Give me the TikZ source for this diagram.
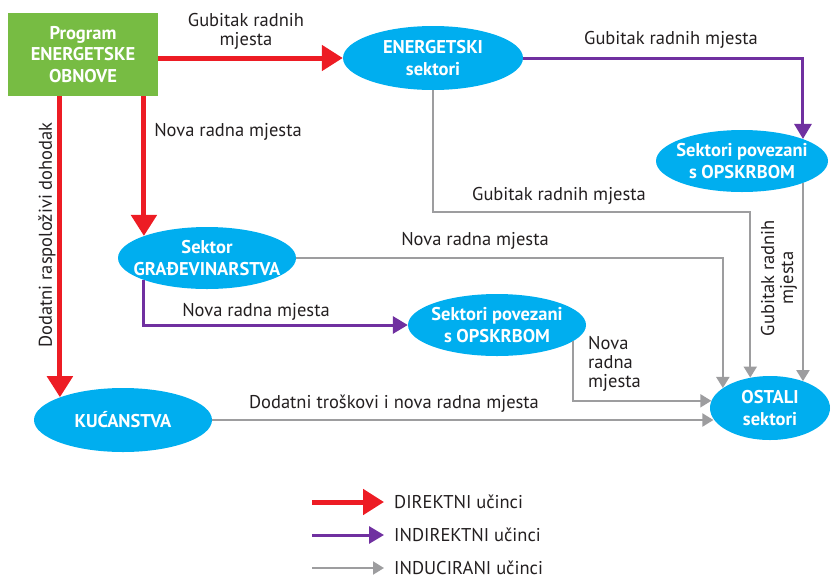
\documentclass[tikz,border=0pt]{standalone}
\usepackage{fontspec}
\setmainfont{PT Sans}
\usetikzlibrary{arrows.meta,calc,shapes.geometric}
\definecolor{cred}{RGB}{237,28,36}
\definecolor{cpur}{RGB}{112,48,160}
\definecolor{cgray}{RGB}{157,157,159}
\definecolor{cblue}{RGB}{0,174,239}
\definecolor{cgreen}{RGB}{119,188,67}
\definecolor{ctext}{RGB}{35,31,32}
\begin{document}
\begin{tikzpicture}[x=1pt,y=-1pt,
  lbl/.style={font=\fontsize{18.5}{19}\selectfont, text=ctext, inner sep=0pt, align=center},
  wtxt/.style={font=\bfseries\fontsize{18.5}{21.5}\selectfont, text=white, align=center, inner sep=0pt},
  ell/.style={ellipse, fill=cblue, inner sep=0pt, draw=none},
  direct/.style={draw=cred, line width=5pt, -{Triangle[length=21pt,width=25pt]}},
  indirect/.style={draw=cpur, line width=3pt, -{Triangle[length=15pt,width=17pt]}},
  induced/.style={draw=cgray, line width=2pt, -{Triangle[length=11pt,width=13pt]}}
]
\useasboundingbox (0,0) rectangle (832,579);

% nodes
\node[fill=cgreen, minimum width=150pt, minimum height=83pt, inner sep=0pt, wtxt] (pg) at (83,54.5) {Program\\ENERGETSKE\\OBNOVE};
\node[ell, minimum width=180pt, minimum height=64pt, label={[wtxt]center:{ENERGETSKI\\sektori}}] (es) at (433,58) {};
\node[ell, minimum width=172pt, minimum height=62pt, label={[wtxt]center:{Sektori povezani\\s OPSKRBOM}}] (sp1) at (742,161) {};
\node[ell, minimum width=120pt, minimum height=64pt, label={[wtxt]center:{OSTALI\\sektori}}] (os) at (770,408) {};
\node[ell, minimum width=178pt, minimum height=62pt, label={[wtxt]center:{Sektor\\GRAĐEVINARSTVA}}] (gr) at (207,258) {};
\node[ell, minimum width=178pt, minimum height=62pt, label={[wtxt]center:{Sektori povezani\\s OPSKRBOM}}] (sp2) at (497,325) {};
\node[ell, minimum width=178pt, minimum height=64pt, label={[wtxt]center:{KUĆANSTVA}}] (ku) at (123,420) {};

% labels
\node[lbl] (l1) at (246,31) {Gubitak radnih\\mjesta};
\node[lbl] (l2) at (671,40) {Gubitak radnih mjesta};
\node[lbl] (l3) at (228,132) {Nova radna mjesta};
\node[lbl, rotate=90] (l4) at (47,235) {Dodatni raspoloživi dohodak};
\node[lbl] (l5) at (559,196) {Gubitak radnih mjesta};
\node[lbl] (l6) at (475,241) {Nova radna mjesta};
\node[lbl, rotate=90] (l7) at (779,278) {Gubitak radnih\\mjesta};
\node[lbl] (l8) at (256,312) {Nova radna mjesta};
\node[lbl, align=left, anchor=west] (l9) at (588,364) {Nova\\radna\\mjesta};
\node[lbl] (l10) at (394,404) {Dodatni troškovi i nova radna mjesta};

\coordinate (g1) at (0,212);

% connectors
\draw[direct] (pg.east |- es.west) -- (es.west);
\draw[direct] (pg.south -| gr.north west) -- (gr.north west);
\draw[direct] (pg.south -| ku.north west) -- (ku.north west);
\draw[indirect] (es.east) -| (sp1.north east);
\draw[indirect] (gr.south west) |- (sp2.west);
\draw[induced] (es.south) -- (es.south |- g1) -| (os.123);
\draw[induced] (sp1.south east) -- (sp1.south east |- os.39);
\draw[induced] (gr.east) -| (os.157);
\draw[induced] (sp2.-12) |- (os.173);
\draw[induced] (ku.east) -- (ku.east -| os.191);

% legend
\coordinate (a1) at (312,502);
\coordinate (b1) at (384,502);
\coordinate (a2) at (312,535);
\coordinate (b2) at (384,535);
\coordinate (a3) at (312,568);
\coordinate (b3) at (384,568);
\draw[direct] (a1) -- (b1);
\draw[indirect] (a2) -- (b2);
\draw[induced] (a3) -- (b3);
\node[lbl, anchor=west] (t1) at (394,502) {DIREKTNI učinci};
\node[lbl, anchor=west] (t2) at (394,535) {INDIREKTNI učinci};
\node[lbl, anchor=west] (t3) at (394,568) {INDUCIRANI učinci};
\end{tikzpicture}
\end{document}
